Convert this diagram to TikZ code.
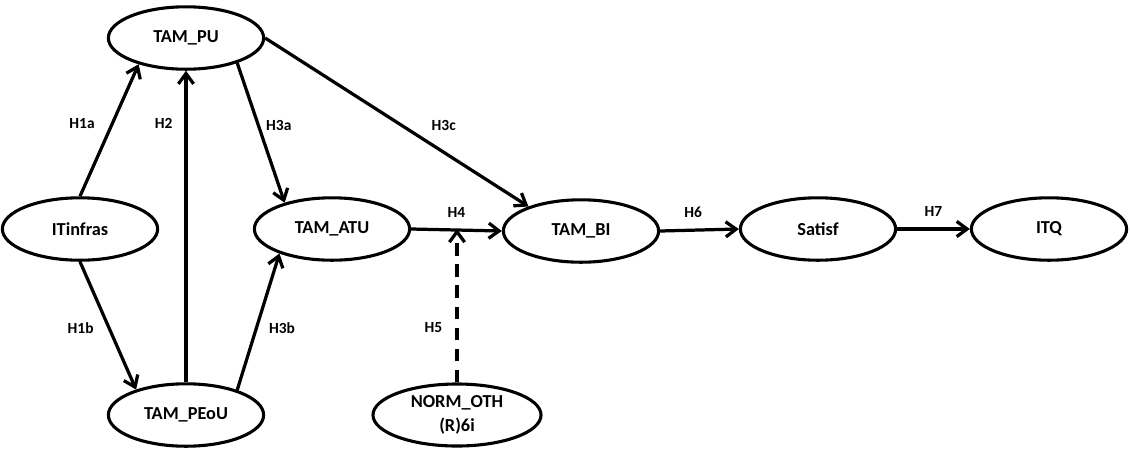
\documentclass[tikz,border=0pt]{standalone}
\usepackage{fontspec}
\setmainfont{Carlito}
\usetikzlibrary{shapes,arrows.meta,positioning,calc}

\begin{document}
\begin{tikzpicture}[
    x=0.025cm, y=-0.025cm,
    construct/.style={draw, ellipse, line width=2.2pt, minimum width=3.88cm, minimum height=1.56cm, inner sep=0pt, align=center, font=\bfseries\fontsize{13}{17}\selectfont},
    arrow/.style={line width=2.3pt, -{Straight Barb[length=2.6mm,width=3.8mm]}},
    moderator/.style={arrow, dash pattern=on 9pt off 6pt},
    hyp/.style={inner sep=0pt, font=\bfseries\fontsize{11}{13}\selectfont}
]
    \useasboundingbox (0,0) rectangle (1130,450);

    % TAM constructs
    \node[construct] (PU) at (186,38) {TAM\_PU};
    \node[construct] (infras) at (80,229) {ITinfras};
    \node[construct] (PEoU) at (186,415) {TAM\_PEoU};
    \node[construct] (ATU) at (332,229) {TAM\_ATU};
    \node[construct] (BI) at (581,231) {TAM\_BI};

    % Outcomes
    \node[construct] (satisf) at (818,229) {Satisf};
    \node[construct] (ITQ) at (1049,229) {ITQ};

    % Moderator
    \node[construct, minimum width=4.2cm, minimum height=1.55cm] (norm) at (457,415) {NORM\_OTH\\(R)6i};

    % Hypotheses
    \draw[arrow] (infras.north) -- node[hyp, pos=0.55, left=4mm] (h1a) {H1a} (PU.209);
    \draw[arrow] (infras.south) -- node[hyp, pos=0.52, left=3.5mm] (h1b) {H1b} (PEoU.153);
    \draw[arrow] (PEoU.north) -- node[hyp, pos=0.83, left=3mm] (h2) {H2} (PU.south);
    \draw[arrow] (PU.334) -- node[hyp, pos=0.45, right=1.5mm] (h3a) {H3a} (ATU.151);
    \draw[arrow] (PEoU.26) -- node[hyp, pos=0.45, right=2.8mm] (h3b) {H3b} (ATU.205);
    \draw[arrow] (PU.east) -- node[hyp, pos=0.52, right=7mm] (h3c) {H3c} (BI.155);
    \draw[arrow] (ATU.east) -- node[hyp, above=2.8mm] (h4) {H4} (BI.west);
    \coordinate (moder) at (norm.north |- ATU.east);
    \draw[moderator] (norm.north) -- node[hyp, pos=0.36, left=3.3mm] (h5) {H5} (moder);
    \draw[arrow] (BI.east) -- node[hyp, pos=0.42, above=2.8mm] (h6) {H6} (satisf.west);
    \draw[arrow] (satisf.east) -- node[hyp, above=2.8mm] (h7) {H7} (ITQ.west);
\end{tikzpicture}
\end{document}
